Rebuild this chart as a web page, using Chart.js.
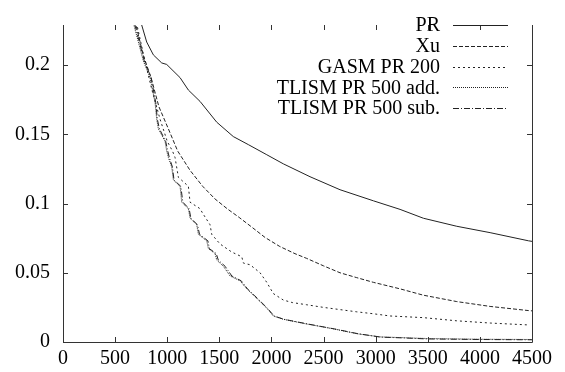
<!DOCTYPE html>
<html>
<head>
<meta charset="utf-8">
<script src="https://cdn.jsdelivr.net/npm/chart.js@4"></script>
<style>
  html, body { margin: 0; padding: 0; background: #fff; }
  #wrap { width: 565px; height: 372px; }
</style>
</head>
<body>
<div id="wrap"><canvas id="chart" width="565" height="372"></canvas></div>
<script>
// valores
const xTicks = [0, 500, 1000, 1500, 2000, 2500, 3000, 3500, 4000, 4500];
const yTicks = [0, 0.05, 0.1, 0.15, 0.2];

const prX = [700, 755, 803, 867, 947, 995, 1123, 1203, 1315, 1475, 1634, 1778, 1950, 2114, 2370, 2658, 2978, 3234, 3458, 3778, 4098, 4466, 4500];
const prY = [0.24, 0.229, 0.2167, 0.2074, 0.2016, 0.2005, 0.191, 0.182, 0.1738, 0.1588, 0.1484, 0.1426, 0.1355, 0.1287, 0.1194, 0.110, 0.102, 0.0958, 0.0894, 0.0836, 0.079, 0.0731, 0.0727];

const xuX = [650, 700, 771, 845, 920, 1011, 1100, 1219, 1340, 1459, 1580, 1690, 1820, 1939, 2080, 2226, 2338, 2500, 2658, 2818, 2978, 3234, 3458, 3778, 4098, 4466, 4500];
const xuY = [0.245, 0.229, 0.207, 0.191, 0.17, 0.154, 0.138, 0.124, 0.1125, 0.1033, 0.096, 0.09, 0.0825, 0.0755, 0.069, 0.0638, 0.0604, 0.055, 0.05, 0.0465, 0.0431, 0.0384, 0.0338, 0.0292, 0.0257, 0.0227, 0.0225];

const gasmX = [660, 710, 780, 850, 931, 1000, 1050, 1075, 1107, 1203, 1219, 1315, 1340, 1411, 1427, 1507, 1619, 1715, 1731, 1795, 1891, 1955, 2018, 2114, 2200, 2338, 2500, 2658, 2818, 2978, 3138, 3458, 3778, 4098, 4418, 4450];
const gasmY = [0.245, 0.229, 0.205, 0.183, 0.161, 0.145, 0.138, 0.1333, 0.119, 0.1125, 0.101, 0.0963, 0.093, 0.0847, 0.0778, 0.0708, 0.065, 0.0616, 0.057, 0.0558, 0.05, 0.0431, 0.035, 0.0303, 0.0285, 0.0269, 0.025, 0.0234, 0.0218, 0.0204, 0.0188, 0.0176, 0.0153, 0.0137, 0.0125, 0.0124];

const addX = [640, 680, 771, 835, 883, 899, 915, 979, 995, 1011, 1043, 1059, 1123, 1139, 1203, 1219, 1283, 1299, 1379, 1395, 1459, 1475, 1539, 1603, 1699, 1763, 1827, 1955, 2018, 2114, 2338, 2594, 2818, 3042, 3234, 3500, 4000, 4500];
const addY = [0.245, 0.229, 0.203, 0.191, 0.173, 0.161, 0.154, 0.145, 0.138, 0.1333, 0.1264, 0.117, 0.1125, 0.101, 0.0963, 0.0894, 0.0847, 0.0778, 0.0731, 0.0674, 0.0639, 0.0592, 0.0547, 0.0477, 0.0442, 0.0384, 0.0338, 0.0245, 0.0188, 0.0164, 0.013, 0.0095, 0.006, 0.0037, 0.0032, 0.0025, 0.002, 0.0018];

const subX = [640, 690, 780, 845, 890, 905, 925, 985, 1005, 1020, 1050, 1065, 1130, 1150, 1210, 1227, 1290, 1310, 1390, 1405, 1470, 1490, 1555, 1620, 1710, 1770, 1835, 1960, 2025, 2120, 2350, 2600, 2830, 3050, 3250, 3500, 4000, 4500];
const subY = [0.245, 0.229, 0.203, 0.191, 0.173, 0.161, 0.154, 0.145, 0.138, 0.1333, 0.1264, 0.117, 0.1125, 0.101, 0.0963, 0.0894, 0.0847, 0.0778, 0.0731, 0.0674, 0.0639, 0.0592, 0.0547, 0.0477, 0.0442, 0.0384, 0.0338, 0.0245, 0.0188, 0.0164, 0.013, 0.0095, 0.006, 0.0035, 0.003, 0.0022, 0.0018, 0.0016];

const seriesNames = ['PR', 'Xu', 'GASM PR 200', 'TLISM PR 500 add.', 'TLISM PR 500 sub.'];
const dashes = [[], [4, 2], [2, 3], [1, 1], [6, 2, 1, 2]];

const FONT = '"Liberation Serif", "DejaVu Serif", serif';
const INK = '#222';

function pts(xs, ys) {
    return xs.map((x, i) => ({ x: x, y: ys[i] }));
}

const allData = [pts(prX, prY), pts(xuX, xuY), pts(gasmX, gasmY), pts(addX, addY), pts(subX, subY)];

// bordes, marcas hacia dentro y leyenda al estilo gnuplot
const framePlugin = {
    id: 'frame',
    afterDraw(chart) {
        const ctx = chart.ctx;
        const a = chart.chartArea;
        const xs = chart.scales.x;
        const ys = chart.scales.y;
        ctx.save();
        ctx.strokeStyle = '#333';
        ctx.lineWidth = 1;
        ctx.setLineDash([]);
        ctx.beginPath();
        ctx.moveTo(a.left + 0.5, a.top);
        ctx.lineTo(a.left + 0.5, a.bottom + 0.5);
        ctx.lineTo(a.right + 0.5, a.bottom + 0.5);
        ctx.lineTo(a.right + 0.5, a.top);
        const t = 5;
        xTicks.forEach(v => {
            const px = Math.round(xs.getPixelForValue(v)) + 0.5;
            ctx.moveTo(px, a.bottom);
            ctx.lineTo(px, a.bottom - t);
            ctx.moveTo(px, a.top);
            ctx.lineTo(px, a.top + t);
        });
        yTicks.forEach(v => {
            const py = Math.round(ys.getPixelForValue(v)) + 0.5;
            ctx.moveTo(a.left, py);
            ctx.lineTo(a.left + t, py);
            ctx.moveTo(a.right, py);
            ctx.lineTo(a.right - t, py);
        });
        ctx.stroke();

        // leyenda
        ctx.font = '20px ' + FONT;
        ctx.fillStyle = '#000';
        ctx.textAlign = 'right';
        ctx.textBaseline = 'middle';
        seriesNames.forEach((name, i) => {
            const y = 25 + i * 20.8;
            ctx.fillText(name, 440, y + 1);
            ctx.beginPath();
            ctx.setLineDash(dashes[i]);
            ctx.strokeStyle = INK;
            ctx.moveTo(453, Math.round(y) + 0.5);
            ctx.lineTo(508, Math.round(y) + 0.5);
            ctx.stroke();
        });
        ctx.restore();
    }
};

new Chart(document.getElementById('chart').getContext('2d'), {
    type: 'line',
    data: {
        datasets: seriesNames.map((name, i) => ({
            label: name,
            data: allData[i],
            borderColor: INK,
            borderWidth: 1,
            borderDash: dashes[i],
            pointRadius: 0,
            tension: 0,
            fill: false
        }))
    },
    options: {
        responsive: false,
        animation: false,
        layout: {
            padding: { left: 0, top: 12, right: 33, bottom: 0 }
        },
        plugins: {
            legend: { display: false },
            tooltip: { enabled: false }
        },
        scales: {
            x: {
                type: 'linear',
                min: 0,
                max: 4500,
                border: { display: false },
                grid: { display: false, drawTicks: false },
                afterFit: s => { s.height = 30; },
                ticks: {
                    stepSize: 500,
                    padding: 5,
                    color: '#000',
                    maxRotation: 0,
                    autoSkip: false,
                    font: { family: FONT, size: 20 },
                    callback: v => String(v)
                }
            },
            y: {
                type: 'linear',
                min: 0,
                max: 0.229,
                border: { display: false },
                grid: { display: false, drawTicks: false },
                afterFit: s => { s.width = 63; },
                ticks: {
                    stepSize: 0.05,
                    includeBounds: false,
                    padding: 13,
                    color: '#000',
                    font: { family: FONT, size: 20 },
                    callback: v => String(parseFloat(v.toFixed(2)))
                }
            }
        }
    },
    plugins: [framePlugin]
});
</script>
</body>
</html>
